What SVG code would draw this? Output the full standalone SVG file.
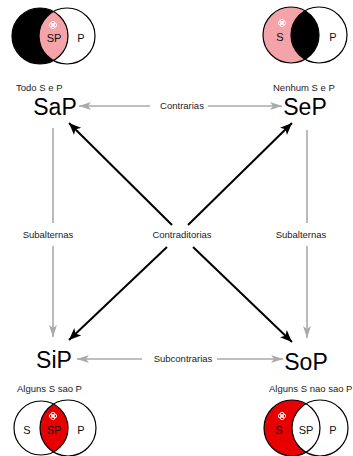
<svg xmlns="http://www.w3.org/2000/svg" xmlns:xlink="http://www.w3.org/1999/xlink" width="353" height="456" viewBox="0 0 353 456">
<style>
.big{font-family:"Liberation Sans",Arial,sans-serif;font-size:23px;fill:#000;text-anchor:middle}
.sm{font-family:"Liberation Sans",Arial,sans-serif;font-size:9.5px;fill:#222}
.lbl{font-family:"Liberation Sans",Arial,sans-serif;font-size:9.5px;fill:#222;text-anchor:middle}
.vt{font-family:"Liberation Sans",Arial,sans-serif;font-size:11px;fill:#111;text-anchor:middle}
.ring{fill:none;stroke:#000;stroke-width:1.2}
.gray{stroke:#aaa;stroke-width:1.6;fill:none}
.blk{stroke:#000;stroke-width:2;fill:none}
.mk{fill:none;stroke:#fff;stroke-width:0.9}
</style>
<defs>
<marker id="ag" markerUnits="userSpaceOnUse" markerWidth="14" markerHeight="10" refX="12" refY="5" orient="auto"><path d="M0,1 L12,5 L0,9 L3,5 Z" fill="#aaa"/></marker>
<marker id="ab" markerUnits="userSpaceOnUse" markerWidth="14" markerHeight="12" refX="12" refY="6" orient="auto"><path d="M0,1 L12,6 L0,11 L3,6 Z" fill="#000"/></marker>
<g id="quat"><circle cx="-1.8" cy="0" r="1.9" class="mk"/><circle cx="1.8" cy="0" r="1.9" class="mk"/><circle cx="0" cy="-1.8" r="1.9" class="mk"/><circle cx="0" cy="1.8" r="1.9" class="mk"/></g>
<clipPath id="cTL"><circle cx="40" cy="36" r="28"/></clipPath>
<clipPath id="cTR"><circle cx="291" cy="35" r="28"/></clipPath>
<clipPath id="cBL"><circle cx="41" cy="428" r="27"/></clipPath>
<clipPath id="cBR"><circle cx="292" cy="428" r="28"/></clipPath>
</defs>
<rect width="353" height="456" fill="#fff"/>

<g id="connectors">
<line class="gray" x1="150" y1="106" x2="79" y2="106" marker-end="url(#ag)"/>
<line class="gray" x1="208" y1="106" x2="282" y2="106" marker-end="url(#ag)"/>
<line class="gray" x1="53" y1="128" x2="53" y2="223"/>
<line class="gray" x1="53" y1="246" x2="53" y2="337" marker-end="url(#ag)"/>
<line class="gray" x1="307" y1="130" x2="307" y2="223"/>
<line class="gray" x1="307" y1="246" x2="307" y2="338" marker-end="url(#ag)"/>
<line class="blk" x1="172" y1="225" x2="69" y2="123" marker-end="url(#ab)"/>
<line class="blk" x1="188" y1="225" x2="292" y2="123" marker-end="url(#ab)"/>
<line class="blk" x1="167" y1="247" x2="69" y2="340" marker-end="url(#ab)"/>
<line class="blk" x1="193" y1="247" x2="292" y2="342" marker-end="url(#ab)"/>
<line class="gray" x1="142" y1="359" x2="77" y2="359" marker-end="url(#ag)"/>
<line class="gray" x1="217" y1="359" x2="283" y2="359" marker-end="url(#ag)"/>
<text class="lbl" x="182" y="109">Contrarias</text>
<text class="lbl" x="48" y="238">Subalternas</text>
<text class="lbl" x="301" y="238">Subalternas</text>
<text class="lbl" x="182" y="238">Contraditorias</text>
<text class="lbl" x="183" y="362">Subcontrarias</text>
</g>

<g id="SaP">
<circle cx="67" cy="36" r="28" fill="#fff"/>
<circle cx="40" cy="36" r="28" fill="#000"/>
<circle cx="67" cy="36" r="28" fill="#f4a3a8" clip-path="url(#cTL)"/>
<circle class="ring" cx="40" cy="36" r="28"/>
<circle class="ring" cx="67" cy="36" r="28"/>
<use xlink:href="#quat" x="53" y="25"/>
<text class="vt" x="54" y="42">SP</text>
<text class="vt" x="81" y="42">P</text>
<text class="sm" x="16" y="91">Todo S e P</text>
<text class="big" x="55" y="115">SaP</text>
</g>

<g id="SeP">
<circle cx="291" cy="35" r="28" fill="#f4a3a8"/>
<circle cx="319" cy="35" r="28" fill="#fff"/>
<circle cx="319" cy="35" r="28" fill="#000" clip-path="url(#cTR)"/>
<circle class="ring" cx="291" cy="35" r="28"/>
<circle class="ring" cx="319" cy="35" r="28"/>
<use xlink:href="#quat" x="282" y="23"/>
<text class="vt" x="280" y="41">S</text>
<text class="vt" x="333" y="41">P</text>
<text class="sm" x="273" y="91">Nenhum S e P</text>
<text class="big" x="305" y="115">SeP</text>
</g>

<g id="SiP">
<circle cx="41" cy="428" r="27" fill="#fff"/>
<circle cx="68" cy="428" r="28" fill="#fff"/>
<circle cx="68" cy="428" r="28" fill="#e60000" clip-path="url(#cBL)"/>
<circle class="ring" cx="41" cy="428" r="27"/>
<circle class="ring" cx="68" cy="428" r="28"/>
<use xlink:href="#quat" x="53" y="416"/>
<text class="vt" x="27" y="434">S</text>
<text class="vt" x="54" y="434">SP</text>
<text class="vt" x="81" y="434">P</text>
<text class="sm" x="17" y="392">Alguns S sao P</text>
<text class="big" x="54" y="368">SiP</text>
</g>

<g id="SoP">
<circle cx="292" cy="428" r="28" fill="#e60000"/>
<circle cx="320" cy="428" r="28" fill="#fff" clip-path="url(#cBR)"/>
<circle class="ring" cx="292" cy="428" r="28"/>
<circle class="ring" cx="320" cy="428" r="28"/>
<use xlink:href="#quat" x="282" y="416"/>
<text class="vt" x="279" y="434">S</text>
<text class="vt" x="306" y="434">SP</text>
<text class="vt" x="333" y="434">P</text>
<text class="sm" x="269" y="392">Alguns S nao sao P</text>
<text class="big" x="306" y="370">SoP</text>
</g>
</svg>
